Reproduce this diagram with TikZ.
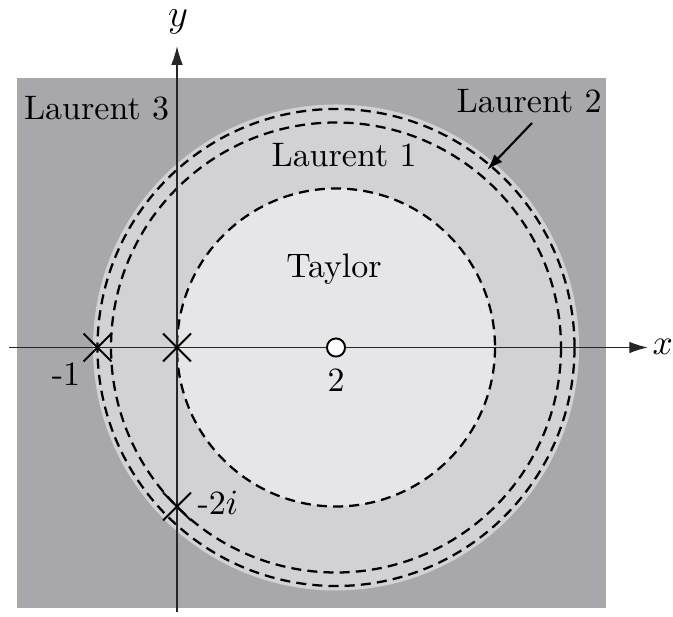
\documentclass[tikz,border=0pt]{standalone}
\usetikzlibrary{arrows.meta,shapes.misc}
\definecolor{bgdark}{RGB}{168,168,172}
\definecolor{ringgray}{RGB}{210,210,213}
\definecolor{taylorgray}{RGB}{230,230,232}
\begin{document}
\begin{tikzpicture}[x=0.309pt,y=-0.309pt,
  bnd/.style={dash pattern=on 3.1pt off 1.9pt, line width=0.7pt},
  axis/.style={line width=0.45pt, draw=black!85, -{Latex[length=5.8pt,width=3.6pt]}},
  lbl/.style={inner sep=0pt, anchor=base, font=\fontsize{10.5}{12.6}\selectfont},
  crs/.style={cross out, draw, line width=0.65pt, inner sep=0pt, minimum size=8pt},
  pole/.style={circle, draw, fill=white, inner sep=0pt, minimum size=5.6pt, line width=0.6pt}]
\useasboundingbox (0,0) rectangle (673,617);
\fill[bgdark] (17,78) rectangle (606,608);
\coordinate (C) at (336,347.5);
\fill[ringgray] (C) circle[radius=243];
\fill[taylorgray] (C) circle[radius=159];
\draw[bnd] (C) circle[radius=159];
\draw[bnd] (C) circle[radius=225];
\draw[bnd] (C) circle[radius=238.5];
% axes
\coordinate (xs) at (9,347.5);
\coordinate (xe) at (648,347.5);
\coordinate (ys) at (177,612);
\coordinate (ye) at (177,46);
\draw[axis] (xs) -- (xe);
\draw[axis] (ys) -- (ye);
% singular points
\node[crs] (pm1) at (97.5,347.5) {};
\node[crs] (p0) at (177,347.5) {};
\node[crs] (pm2i) at (177,506.5) {};
\node[pole] (p2) at (C) {};
% labels
\node[lbl] (L3) at (96.5,120) {Laurent 3};
\node[lbl] (L2) at (529,113) {Laurent 2};
\node[lbl] (L1) at (344,167) {Laurent 1};
\node[lbl] (T) at (334,278) {Taylor};
\node[lbl] (lm1) at (66,386) {-1};
\node[lbl] (l2) at (336,392) {2};
\node[lbl, anchor=base west] (lm2i) at (197,514) {-2$i$};
\node[lbl, anchor=base west, font=\fontsize{10.8}{13}\selectfont] (xl) at (652,355) {$x$};
\node[lbl, font=\fontsize{11.5}{13.8}\selectfont] (yl) at (178,27) {$y$};
% Laurent 2 pointer
\coordinate (a1) at (532,123);
\coordinate (a2) at (487,170);
\draw[line width=0.65pt, -{Latex[length=5pt,width=3.4pt]}] (a1) -- (a2);
\end{tikzpicture}
\end{document}
